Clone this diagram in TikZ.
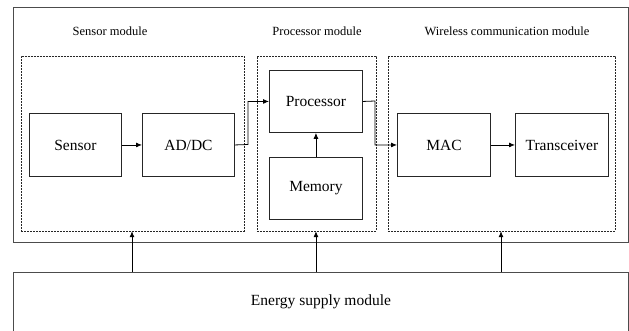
\documentclass[tikz,border=0pt]{standalone}
\usepackage{fontspec}
\setmainfont{Liberation Serif}
\usetikzlibrary{arrows.meta}
\begin{document}
\begin{tikzpicture}[x=1pt,y=-1pt,
  blk/.style={draw=black!85,line width=0.9pt,inner sep=0pt,font=\fontsize{15.5}{18}\selectfont},
  grp/.style={draw=black!85,line width=0.7pt,dash pattern=on 2pt off 1pt,inner sep=0pt},
  lbl/.style={font=\fontsize{12.5}{15}\selectfont,inner sep=0pt},
  frame/.style={draw=black!70,line width=0.85pt},
  con/.style={line width=0.8pt,-{Latex[length=6pt,width=5pt]}}]
\useasboundingbox (0,0) rectangle (629,330);
% outer box
\draw[frame] (13,7) rectangle (628,242);
% group boxes
\node[grp,minimum width=223pt,minimum height=175pt,anchor=north west] (gs) at (21,55.5) {};
\node[grp,minimum width=119pt,minimum height=175pt,anchor=north west] (gp) at (256.5,55.5) {};
\node[grp,minimum width=227pt,minimum height=175pt,anchor=north west] (gw) at (387.5,55.5) {};
% labels
\node[lbl] (ls) at (110,31) {Sensor module};
\node[lbl] (lp) at (317,31) {Processor module};
\node[lbl] (lw) at (507,31) {Wireless communication module};
% blocks
\node[blk,minimum width=92pt,minimum height=63pt,anchor=north west] (sen) at (29,113) {Sensor};
\node[blk,minimum width=92pt,minimum height=63pt,anchor=north west] (adc) at (142,113) {AD/DC};
\node[blk,minimum width=93pt,minimum height=62pt,anchor=north west] (pro) at (269,70) {Processor};
\node[blk,minimum width=93pt,minimum height=62pt,anchor=north west] (mem) at (269,157) {Memory};
\node[blk,minimum width=93pt,minimum height=63pt,anchor=north west] (mac) at (397,113) {MAC};
\node[blk,minimum width=93pt,minimum height=63pt,anchor=north west] (trx) at (515,113) {Transceiver};
% energy (bottom edge lies outside the picture)
\node[blk,draw=none,minimum width=615pt,minimum height=58pt,anchor=north west] (en) at (13,272) {Energy supply module};
\draw[frame] (en.south west) ++(0,2) -- (en.north west) -- (en.north east) -- ++(0,60);
% connectors
\draw[con] (sen.east) -- (adc.west);
\draw[con] (adc.east) -- (248,144.5) |- (pro.west);
\draw[con] (pro.east) -- (375,101) |- (mac.west);
\draw[con] (mem.north) -- (pro.south);
\draw[con] (mac.east) -- (trx.west);
\draw[con] (en.north -| 132,0) -- (gs.south -| 132,0);
\draw[con] (en.north -| mem.south) -- (gp.south -| mem.south);
\draw[con] (en.north -| 501,0) -- (gw.south -| 501,0);
\end{tikzpicture}
\end{document}
